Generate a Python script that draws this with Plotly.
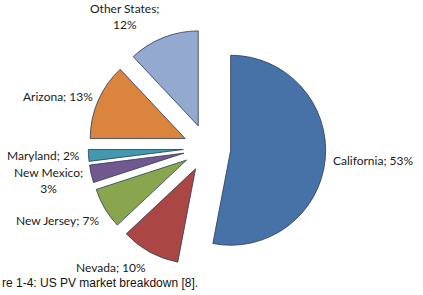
import plotly.graph_objects as go

states = ["California", "Nevada", "New Jersey", "New Mexico", "Maryland", "Arizona", "Other States"]
shares = [53, 10, 7, 3, 2, 13, 12]
label_texts = ["California; 53%", "Nevada; 10%", "New Jersey; 7%", "New Mexico;<br>3%",
               "Maryland; 2%", "Arizona; 13%", "Other States;<br>12%"]
colors = ["#4672A8", "#AA4643", "#89A54E", "#71588F", "#4198AF", "#DB843D", "#93A9CF"]

W, H = 423, 295
# label centres in pixels (style/layout)
label_pos = [(373, 160), (111, 267), (57, 220), (48.5, 180), (43.5, 155), (57.5, 96), (125, 17)]

cx, cy, R, pull = 207, 148, 95, 0.25
half = R * (1 + pull)
dom_x = [(cx - half) / W, (cx + half) / W]
dom_y = [(H - cy - half) / H, (H - cy + half) / H]

fig = go.Figure(go.Pie(
    labels=states, values=shares, sort=False, direction="clockwise", rotation=0,
    pull=[pull] * len(states), textinfo="none", hoverinfo="label+percent",
    marker=dict(colors=colors, line=dict(color="#2b3a55", width=0.8)),
    domain=dict(x=dom_x, y=dom_y), showlegend=False,
))

for txt, (px, py) in zip(label_texts, label_pos):
    fig.add_annotation(x=px / W, y=1 - py / H, xref="paper", yref="paper", text=txt,
                       showarrow=False, xanchor="center", yanchor="middle",
                       font=dict(family="Lato, Carlito, sans-serif", size=12, color="#1a1a1a"))

fig.add_annotation(x=0, y=1 - 283 / H, xref="paper", yref="paper",
                   text="re 1-4: US PV market breakdown [8].", showarrow=False,
                   xanchor="left", yanchor="middle",
                   font=dict(family="Liberation Sans, Arial, sans-serif", size=12, color="#111"))

fig.update_layout(width=W, height=H, margin=dict(l=0, r=0, t=0, b=0),
                  paper_bgcolor="white", plot_bgcolor="white")
fig.write_html("out.html")
